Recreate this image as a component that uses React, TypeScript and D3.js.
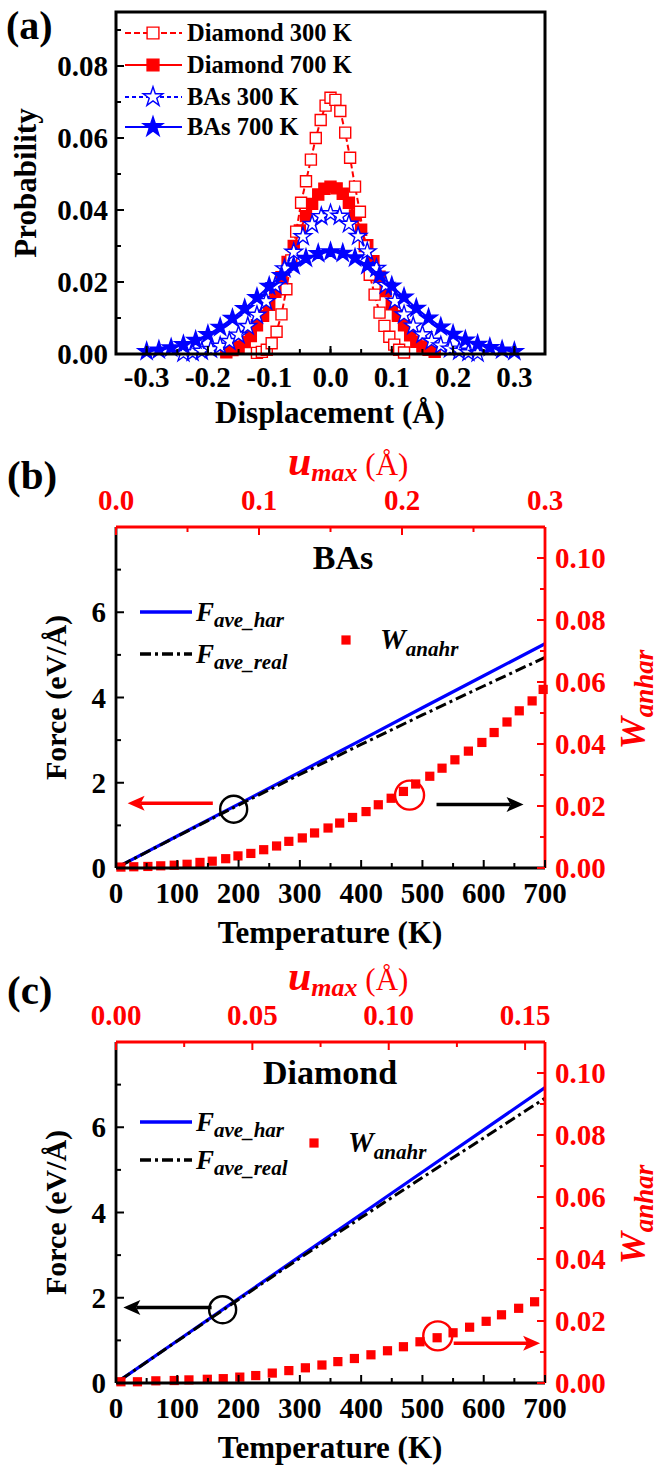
import React from "react";
import * as d3 from "d3";

const FONT = "'Liberation Serif', 'Times New Roman', Times, serif";
const RED = "#ff0000";
const BLUE = "#0000ff";

// ---------- (a) displacement distributions ----------
const dispD300 = [
  -0.12, -0.112, -0.104, -0.096, -0.088, -0.08, -0.072, -0.064, -0.056, -0.048, -0.04,
  -0.032, -0.024, -0.016, -0.008, 0, 0.008, 0.016, 0.024, 0.032, 0.04, 0.048, 0.056,
  0.064, 0.072, 0.08, 0.088, 0.096, 0.104, 0.112, 0.12,
];
const probD300 = [
  0.0003, 0.0006, 0.0012, 0.003, 0.0062, 0.011, 0.018, 0.026, 0.034, 0.042, 0.048,
  0.054, 0.06, 0.065, 0.069, 0.0712, 0.0706, 0.0675, 0.0615, 0.0545, 0.0465, 0.0395, 0.03,
  0.022, 0.0165, 0.0115, 0.0078, 0.0048, 0.0026, 0.0012, 0.0004,
];

const dispD700 = [
  -0.17, -0.16, -0.15, -0.14, -0.13, -0.12, -0.11, -0.1, -0.09, -0.08, -0.07, -0.06,
  -0.05, -0.04, -0.03, -0.02, -0.01, 0, 0.01, 0.02, 0.03, 0.04, 0.05, 0.06, 0.07, 0.08,
  0.09, 0.1, 0.11, 0.12, 0.13, 0.14, 0.15, 0.16, 0.17,
];
const probD700 = [
  0.0005, 0.0011, 0.002, 0.0033, 0.005, 0.008, 0.0106, 0.0137, 0.0173, 0.0213, 0.0256,
  0.03, 0.0343, 0.0383, 0.0417, 0.0443, 0.0459, 0.0465, 0.046, 0.0445, 0.042, 0.0385,
  0.0345, 0.0302, 0.0258, 0.0215, 0.0175, 0.0138, 0.0106, 0.008, 0.0052, 0.0034, 0.0021,
  0.0012, 0.0006,
];

const dispB300 = [
  -0.24, -0.225, -0.21, -0.195, -0.18, -0.165, -0.15, -0.135, -0.12, -0.105, -0.09,
  -0.075, -0.06, -0.045, -0.03, -0.015, 0, 0.015, 0.03, 0.045, 0.06, 0.075, 0.09, 0.105,
  0.12, 0.135, 0.15, 0.165, 0.18, 0.195, 0.21, 0.225, 0.24,
];
const probB300 = [
  0.0002, 0.0004, 0.0008, 0.0013, 0.0022, 0.0035, 0.0053, 0.0077, 0.0108, 0.0146, 0.019,
  0.0237, 0.0283, 0.0326, 0.036, 0.0382, 0.039, 0.0383, 0.0361, 0.0327, 0.0284, 0.0238,
  0.0191, 0.0147, 0.0109, 0.0078, 0.0054, 0.0036, 0.0023, 0.0014, 0.0008, 0.0004, 0.0002,
];

const dispB700 = [
  -0.3, -0.28, -0.26, -0.24, -0.22, -0.2, -0.18, -0.16, -0.14, -0.12, -0.1, -0.08, -0.06,
  -0.04, -0.02, 0, 0.02, 0.04, 0.06, 0.08, 0.1, 0.12, 0.14, 0.16, 0.18, 0.2, 0.22, 0.24,
  0.26, 0.28, 0.3,
];
const probB700 = [
  0.0007, 0.0011, 0.0017, 0.0026, 0.0038, 0.0054, 0.0074, 0.0099, 0.0126, 0.0157, 0.0188,
  0.0218, 0.0245, 0.0266, 0.0279, 0.0284, 0.028, 0.0267, 0.0246, 0.0219, 0.0189, 0.0158,
  0.0127, 0.01, 0.0075, 0.0055, 0.0039, 0.0027, 0.0018, 0.0011, 0.0007,
];

const dispTicks = [-0.3, -0.2, -0.1, 0, 0.1, 0.2, 0.3];
const probTicks = [0, 0.02, 0.04, 0.06, 0.08];

// ---------- (b) BAs ----------
const tempBAs = [
  8, 29, 52, 73, 95, 116, 137, 157, 179, 199, 220, 241, 262, 282, 304, 324, 346, 365,
  386, 408, 428, 449, 469, 489, 512, 532, 553, 575, 597, 617, 638, 658, 679, 697,
];
const wBAs = [
  0.0003, 0.0004, 0.0005, 0.0007, 0.0009, 0.0012, 0.0018, 0.0022, 0.003, 0.0039, 0.0047,
  0.0059, 0.0071, 0.0086, 0.0097, 0.0113, 0.0129, 0.0145, 0.0163, 0.0182, 0.0204, 0.0225,
  0.0247, 0.0271, 0.0296, 0.0322, 0.0349, 0.0377, 0.0405, 0.0437, 0.0471, 0.0507, 0.0539,
  0.0576,
];

// ---------- (c) Diamond ----------
const tempDia = [
  8, 35, 65, 95, 119, 149, 175, 202, 228, 255, 282, 309, 336, 362, 389, 416, 443, 469,
  496, 524, 550, 577, 604, 629, 657, 683,
];
const wDia = [
  0.0004, 0.0004, 0.0007, 0.0008, 0.001, 0.0012, 0.0014, 0.0019, 0.0024, 0.0032, 0.004,
  0.0049, 0.0058, 0.0069, 0.0079, 0.0091, 0.0104, 0.0117, 0.0133, 0.0146, 0.0162, 0.018,
  0.0199, 0.022, 0.0241, 0.0262,
];

// average forces
const tempForce = [8, 100, 200, 300, 400, 500, 600, 700];
const harBAs = [0.06, 0.75, 1.5, 2.25, 3.0, 3.76, 4.51, 5.26];
const realBAs = [0.06, 0.744, 1.476, 2.194, 2.9, 3.59, 4.27, 4.94];
const harDia = [0.08, 0.99, 1.98, 2.97, 3.96, 4.95, 5.94, 6.93];
const realDia = [0.08, 0.985, 1.96, 2.93, 3.88, 4.82, 5.75, 6.68];

const tempTicks = [0, 100, 200, 300, 400, 500, 600, 700];
const forceTicks = [0, 2, 4, 6];
const wTicks = [0, 0.02, 0.04, 0.06, 0.08, 0.1];
const uTicksBAs = [0, 0.1, 0.2, 0.3];
const uTicksDia = [0, 0.05, 0.1, 0.15];

const X0 = 116;
const X1 = 545;

const sym = (type: any, size: number) => d3.symbol().type(type).size(size)() as string;

const Marker = ({ x, y, shape, filled, color, size }: any) => (
  <path
    d={sym(shape === "star" ? d3.symbolStar : d3.symbolSquare, size)}
    transform={`translate(${x},${y})`}
    fill={filled ? color : "#fff"}
    stroke={color}
    strokeWidth={1.4}
  />
);

const Arrow = ({ x1, x2, y, color }: any) => {
  const dir = x2 > x1 ? 1 : -1;
  const hx = x2 - dir * 17;
  return (
    <g>
      <line x1={x1} x2={hx + dir * 4} y1={y} y2={y} stroke={color} strokeWidth={3.5} />
      <path d={`M${x2},${y} L${hx},${y - 7.5} L${hx + dir * 4},${y} L${hx},${y + 7.5} Z`} fill={color} />
    </g>
  );
};

function PanelA() {
  const top = 12;
  const bottom = 354;
  const x = d3.scaleLinear().domain([-0.35, 0.35]).range([X0, X1]);
  const y = d3.scaleLinear().domain([0, 0.095]).range([bottom, top]);

  const series = [
    { name: "Diamond 300 K", xs: dispD300, ys: probD300, color: RED, shape: "square", filled: false, dash: "6,3", size: 121 },
    { name: "Diamond 700 K", xs: dispD700, ys: probD700, color: RED, shape: "square", filled: true, dash: null, size: 121 },
    { name: "BAs 300 K", xs: dispB300, ys: probB300, color: BLUE, shape: "star", filled: false, dash: "4,3", size: 95 },
    { name: "BAs 700 K", xs: dispB700, ys: probB700, color: BLUE, shape: "star", filled: true, dash: null, size: 95 },
  ];
  const drawOrder = [series[1], series[0], series[2], series[3]];
  const path = (s: any) =>
    d3
      .line<number>()
      .x((_, i) => x(s.xs[i]))
      .y((d) => y(d))(s.ys) as string;

  const minorX = d3.range(-0.35, 0.351, 0.05);
  const minorY = [0.01, 0.03, 0.05, 0.07, 0.09];

  return (
    <g>
      <text x={6} y={39} fontSize={40} fontWeight="bold">(a)</text>
      {drawOrder.map((s) => (
        <g key={s.name}>
          <path d={path(s)} fill="none" stroke={s.color} strokeWidth={2} strokeDasharray={s.dash || undefined} />
          {s.ys.map((v, i) => (
            <Marker key={i} x={x(s.xs[i])} y={y(v)} shape={s.shape} filled={s.filled} color={s.color} size={s.size} />
          ))}
        </g>
      ))}
      <rect x={X0} y={top} width={X1 - X0} height={bottom - top} fill="none" stroke="#000" strokeWidth={3} />
      {minorX.map((v, i) => (
        <line key={"mx" + i} x1={x(v)} x2={x(v)} y1={bottom} y2={bottom - 5} stroke="#000" strokeWidth={2} />
      ))}
      {dispTicks.map((v) => (
        <g key={"tx" + v}>
          <line x1={x(v)} x2={x(v)} y1={bottom} y2={bottom - 8} stroke="#000" strokeWidth={2} />
          <text x={x(v)} y={bottom + 33} textAnchor="middle" fontSize={29} fontWeight="bold">
            {v.toFixed(1)}
          </text>
        </g>
      ))}
      {minorY.map((v) => (
        <line key={"my" + v} x1={X0} x2={X0 + 5} y1={y(v)} y2={y(v)} stroke="#000" strokeWidth={2} />
      ))}
      {probTicks.map((v) => (
        <g key={"ty" + v}>
          <line x1={X0} x2={X0 + 8} y1={y(v)} y2={y(v)} stroke="#000" strokeWidth={2} />
          <text x={108} y={y(v) + 10} textAnchor="end" fontSize={29} fontWeight="bold">
            {v.toFixed(2)}
          </text>
        </g>
      ))}
      <text x={330} y={423} textAnchor="middle" fontSize={31} fontWeight="bold">Displacement (Å)</text>
      <text transform={`translate(36,${(top + bottom) / 2}) rotate(-90)`} textAnchor="middle" fontSize={31} fontWeight="bold">
        Probability
      </text>
      {series.map((s, i) => {
        const ly = [33, 65, 97, 127][i];
        return (
          <g key={"lg" + i}>
            <line x1={125} x2={182} y1={ly} y2={ly} stroke={s.color} strokeWidth={2.2} strokeDasharray={s.dash || undefined} />
            <Marker x={153} y={ly} shape={s.shape} filled={s.filled} color={s.color} size={s.shape === "star" ? 120 : 140} />
            <text x={187} y={ly + 8} fontSize={24.5} fontWeight="bold">{s.name}</text>
          </g>
        );
      })}
    </g>
  );
}

function ForcePanel(p: any) {
  const { top, bottom } = p;
  const x = d3.scaleLinear().domain([0, 700]).range([X0, X1]);
  const yF = d3.scaleLinear().domain([0, 8]).range([bottom, top]);
  const yW = d3.scaleLinear().domain([0, 0.11]).range([bottom, top]);
  const xU = d3.scaleLinear().domain([0, p.uMax]).range([X0, X1]);
  const fLine = (vals: number[]) =>
    d3
      .line<number>()
      .x((_, i) => x(tempForce[i]))
      .y((d) => yF(d))(vals) as string;
  const midY = (top + bottom) / 2;

  return (
    <g>
      <text x={7} y={p.labelY} fontSize={41} fontWeight="bold">{p.label}</text>
      <text x={p.titleX} y={top + 42} textAnchor="middle" fontSize={34} fontWeight="bold">{p.title}</text>

      <path d={fLine(p.har)} fill="none" stroke={BLUE} strokeWidth={3.2} />
      <path d={fLine(p.real)} fill="none" stroke="#000" strokeWidth={3} strokeDasharray="11,4,3,4" />
      {p.w.map((v: number, i: number) => (
        <path key={i} d={sym(d3.symbolSquare, 85)} transform={`translate(${x(p.temp[i])},${yW(v)})`} fill={RED} />
      ))}

      {/* frame */}
      <line x1={X0} x2={X0} y1={top} y2={bottom} stroke="#000" strokeWidth={2.8} />
      <line x1={X0} x2={X1} y1={bottom} y2={bottom} stroke="#000" strokeWidth={2.8} />
      <line x1={X0} x2={X1} y1={top} y2={top} stroke={RED} strokeWidth={2.8} />
      <line x1={X1} x2={X1} y1={top} y2={bottom} stroke={RED} strokeWidth={2.8} />

      {/* bottom axis */}
      {d3.range(50, 700, 100).map((v) => (
        <line key={"bm" + v} x1={x(v)} x2={x(v)} y1={bottom} y2={bottom - 5} stroke="#000" strokeWidth={2} />
      ))}
      {tempTicks.map((v) => (
        <g key={"bt" + v}>
          <line x1={x(v)} x2={x(v)} y1={bottom} y2={bottom - 8} stroke="#000" strokeWidth={2} />
          <text x={x(v)} y={bottom + 35} textAnchor="middle" fontSize={29} fontWeight="bold">{v}</text>
        </g>
      ))}
      <text x={330} y={bottom + 75} textAnchor="middle" fontSize={31} fontWeight="bold">Temperature (K)</text>

      {/* left axis */}
      {[1, 3, 5, 7].map((v) => (
        <line key={"lm" + v} x1={X0} x2={X0 + 5} y1={yF(v)} y2={yF(v)} stroke="#000" strokeWidth={2} />
      ))}
      {forceTicks.map((v) => (
        <g key={"lt" + v}>
          <line x1={X0} x2={X0 + 8} y1={yF(v)} y2={yF(v)} stroke="#000" strokeWidth={2} />
          <text x={106} y={yF(v) + 10} textAnchor="end" fontSize={29} fontWeight="bold">{v}</text>
        </g>
      ))}
      <text transform={`translate(66,${midY}) rotate(-90)`} textAnchor="middle" fontSize={30} fontWeight="bold">
        Force (eV/Å)
      </text>

      {/* right axis */}
      {[0.01, 0.03, 0.05, 0.07, 0.09].map((v) => (
        <line key={"rm" + v} x1={X1} x2={X1 - 5} y1={yW(v)} y2={yW(v)} stroke={RED} strokeWidth={2} />
      ))}
      {wTicks.map((v) => (
        <g key={"rt" + v}>
          <line x1={X1} x2={X1 - 8} y1={yW(v)} y2={yW(v)} stroke={RED} strokeWidth={2} />
          <text x={555} y={yW(v) + 10} fontSize={29} fontWeight="bold" fill={RED}>{v.toFixed(2)}</text>
        </g>
      ))}
      <text
        transform={`translate(645,${midY + 2}) rotate(-90)`}
        textAnchor="middle"
        fill={RED}
        fontWeight="bold"
        fontStyle="italic"
      >
        <tspan fontSize={36}>W</tspan>
        <tspan fontSize={27} dy={8}>anhar</tspan>
      </text>

      {/* top axis */}
      {p.uMinor.map((v: number) => (
        <line key={"tm" + v} x1={xU(v)} x2={xU(v)} y1={top} y2={top + 5} stroke={RED} strokeWidth={2} />
      ))}
      {p.uTicks.map((v: number) => (
        <g key={"tt" + v}>
          <line x1={xU(v)} x2={xU(v)} y1={top} y2={top + 8} stroke={RED} strokeWidth={2} />
          <text x={xU(v)} y={top - 17} textAnchor="middle" fontSize={29} fontWeight="bold" fill={RED}>
            {v.toFixed(p.uDigits)}
          </text>
        </g>
      ))}
      <text x={288} y={top - 52} fill={RED}>
        <tspan fontSize={42} fontWeight="bold" fontStyle="italic">u</tspan>
        <tspan fontSize={26} fontWeight="bold" fontStyle="italic" dy={6}>max</tspan>
        <tspan fontSize={31} dy={-6}> (Å)</tspan>
      </text>

      {/* legend */}
      <line x1={140} x2={192} y1={p.lg.y1} y2={p.lg.y1} stroke={BLUE} strokeWidth={3.5} />
      <text x={196} y={p.lg.y1 + 9} fontWeight="bold" fontStyle="italic">
        <tspan fontSize={27}>F</tspan>
        <tspan fontSize={21} dy={6}>ave_har</tspan>
      </text>
      <line x1={140} x2={192} y1={p.lg.y2} y2={p.lg.y2} stroke="#000" strokeWidth={3.5} strokeDasharray="11,4,3,4" />
      <text x={196} y={p.lg.y2 + 9} fontWeight="bold" fontStyle="italic">
        <tspan fontSize={27}>F</tspan>
        <tspan fontSize={21} dy={6}>ave_real</tspan>
      </text>
      <path d={sym(d3.symbolSquare, 85)} transform={`translate(${p.lg.sx},${p.lg.sy})`} fill={RED} />
      <text x={p.lg.wx} y={p.lg.sy + 9} fontWeight="bold" fontStyle="italic">
        <tspan fontSize={29}>W</tspan>
        <tspan fontSize={21} dy={7}>anahr</tspan>
      </text>

      {/* annotations */}
      <circle cx={x(p.bc[0])} cy={yF(p.bc[1])} r={13.5} fill="none" stroke="#000" strokeWidth={2.4} />
      <circle cx={x(p.rc[0])} cy={yW(p.rc[1])} r={14.5} fill="none" stroke={RED} strokeWidth={2.4} />
      <Arrow x1={x(p.la[0])} x2={x(p.la[1])} y={yF(p.la[2])} color={p.la[3]} />
      <Arrow x1={x(p.ra[0])} x2={x(p.ra[1])} y={yW(p.ra[2])} color={p.ra[3]} />
    </g>
  );
}

export default function App() {
  return (
    <svg
      width={662}
      height={1465}
      style={{ position: "absolute", left: 0, top: 0, background: "#fff", fontFamily: FONT }}
    >
      <rect width={662} height={1465} fill="#fff" />
      <PanelA />
      <ForcePanel
        top={527}
        bottom={868}
        label="(b)"
        labelY={489}
        title="BAs"
        titleX={343}
        uMax={0.3}
        uTicks={uTicksBAs}
        uMinor={[0.05, 0.15, 0.25]}
        uDigits={1}
        temp={tempBAs}
        w={wBAs}
        har={harBAs}
        real={realBAs}
        lg={{ y1: 612, y2: 654, sx: 346, sy: 640, wx: 380 }}
        bc={[192, 1.38]}
        rc={[479, 0.0235]}
        la={[158, 19, 1.52, RED]}
        ra={[523, 665, 0.0205, "#000"]}
      />
      <ForcePanel
        top={1042}
        bottom={1383}
        label="(c)"
        labelY={1004}
        title="Diamond"
        titleX={330}
        uMax={0.1573}
        uTicks={uTicksDia}
        uMinor={[0.025, 0.075, 0.125]}
        uDigits={2}
        temp={tempDia}
        w={wDia}
        har={harDia}
        real={realDia}
        lg={{ y1: 1122, y2: 1160, sx: 314, sy: 1143, wx: 348 }}
        bc={[174, 1.72]}
        rc={[525, 0.0152]}
        la={[156, 12, 1.77, "#000"]}
        ra={[551, 692, 0.0128, RED]}
      />
    </svg>
  );
}
